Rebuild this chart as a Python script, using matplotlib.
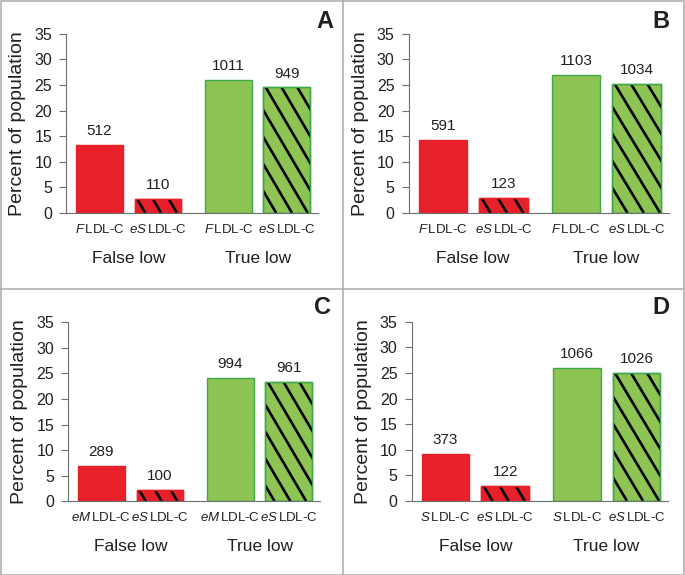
import numpy as np
import matplotlib
matplotlib.use("Agg")
import matplotlib.pyplot as plt
from matplotlib.patches import Rectangle
from matplotlib.lines import Line2D

plt.rcParams['font.family'] = ['Liberation Sans', 'DejaVu Sans']
plt.rcParams['mathtext.fontset'] = 'custom'
plt.rcParams['mathtext.rm'] = 'Liberation Sans'
plt.rcParams['mathtext.it'] = 'Liberation Sans:italic'

# data
panels = ['A', 'B', 'C', 'D']
pct_a = [13.2, 2.8, 26.0, 24.5]
pct_b = [14.3, 2.9, 26.9, 25.2]
pct_c = [6.9, 2.3, 24.2, 23.3]
pct_d = [9.1, 2.9, 26.0, 25.0]
n_a = [512, 110, 1011, 949]
n_b = [591, 123, 1103, 1034]
n_c = [289, 100, 994, 961]
n_d = [373, 122, 1066, 1026]
methods_a = ['F', 'eS', 'F', 'eS']
methods_b = ['F', 'eS', 'F', 'eS']
methods_c = ['eM', 'eS', 'eM', 'eS']
methods_d = ['S', 'eS', 'S', 'eS']
groups = ['False low', 'True low']
yticks = [0, 5, 10, 15, 20, 25, 30, 35]

pcts = [pct_a, pct_b, pct_c, pct_d]
counts = [n_a, n_b, n_c, n_d]
methods = [methods_a, methods_b, methods_c, methods_d]

W, H = 685, 575
fig = plt.figure(figsize=(W / 100, H / 100), dpi=100)

# axes boxes in pixels: left, top, right, bottom
boxes = [(66, 33.7, 318, 213), (408.5, 33.7, 668.5, 213),
         (68, 322.3, 320, 501.3), (411.5, 321.7, 668, 501)]
letter_pos = [(333, 21), (670, 21), (331, 308), (670, 308)]

xpos = [0, 1, 2.2, 3.2]
bw = 0.8
red = '#e8202a'
green = '#8dc453'
txt = '#231f20'
axcol = '#6d6e70'

# steep diagonal hatch (data units): horizontal step and slope
hstep = 0.27
slope = 19.5


def hatch_bar(ax, rect, x, top):
    x0 = x - bw / 2
    run = top / slope
    n0 = int(np.ceil(run / hstep)) + 1
    n1 = int(np.ceil(bw / hstep)) + 1
    for k in range(-n0, n1):
        c = x0 + 0.04 + k * hstep
        ln, = ax.plot([c, c + run], [top, 0], color='black', lw=1.9,
                      solid_capstyle='butt', zorder=2.5)
        ln.set_clip_path(rect)


for i in range(4):
    l, t, r, b = boxes[i]
    ax = fig.add_axes([l / W, 1 - b / H, (r - l) / W, (b - t) / H])
    vals = pcts[i]
    cols = [red, red, green, green]
    edges = [red, red, '#3da94a', '#3da94a']
    for j in range(4):
        bars = ax.bar(xpos[j], vals[j], width=bw, color=cols[j],
                      edgecolor=edges[j], linewidth=1.0, zorder=2)
        if j in (1, 3):
            hatch_bar(ax, bars[0], xpos[j], vals[j])
            ax.bar(xpos[j], vals[j], width=bw, color='none',
                   edgecolor=edges[j], linewidth=1.0, zorder=3)
        ax.annotate(str(counts[i][j]), (xpos[j], vals[j]), xytext=(0, 5),
                    textcoords='offset points', ha='center', va='bottom',
                    fontsize=11, color=txt)

    ax.set_xlim(-0.57, 3.73)
    ax.set_ylim(0, 35)
    ax.set_yticks(yticks)
    ax.set_yticklabels([str(v) for v in yticks], fontsize=11.5, color=txt)
    ax.set_xticks(xpos)
    ax.set_xticklabels([r'$\mathit{' + m + r'}\,$LDL-C' for m in methods[i]],
                       fontsize=9.5, color=txt)
    ax.tick_params(axis='x', length=0, pad=7)
    ax.tick_params(axis='y', length=5, width=0.8, color=axcol, pad=5)
    for s in ['top', 'right']:
        ax.spines[s].set_visible(False)
    for s in ['left', 'bottom']:
        ax.spines[s].set_color(axcol)
        ax.spines[s].set_linewidth(0.8)
    ax.set_ylabel('Percent of population', fontsize=14, color=txt, labelpad=6)
    ax.text(0.5, -0.255, groups[0], transform=ax.get_xaxis_transform(),
            ha='center', va='center', fontsize=12.5, color=txt)
    ax.text(2.7, -0.255, groups[1], transform=ax.get_xaxis_transform(),
            ha='center', va='center', fontsize=12.5, color=txt)

    lx, ly = letter_pos[i]
    fig.text(lx / W, 1 - ly / H, panels[i], ha='right', va='center',
             fontsize=17, fontweight='bold', color=txt)

# panel frame lines
grey = '#b2b2b2'
fig.add_artist(Rectangle((0.5 / W, 0.5 / H), 1 - 1.5 / W, 1 - 1.5 / H,
                         transform=fig.transFigure, fill=False,
                         edgecolor=grey, linewidth=1.2))
fig.add_artist(Line2D([342.5 / W, 342.5 / W], [0, 1], transform=fig.transFigure,
                      color=grey, linewidth=1.2))
fig.add_artist(Line2D([0, 1], [1 - 288.5 / H, 1 - 288.5 / H],
                      transform=fig.transFigure, color=grey, linewidth=1.2))

fig.savefig('out.png', dpi=100)
